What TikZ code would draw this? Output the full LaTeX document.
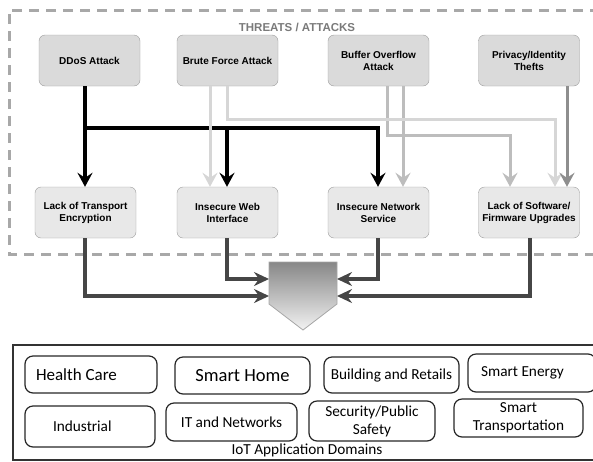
\documentclass[tikz,border=0pt]{standalone}
\usepackage{fontspec}
\newfontfamily\threatfont{Liberation Sans}
\newfontfamily\domainfont{Carlito}
\usetikzlibrary{arrows.meta}
\definecolor{boxedge}{HTML}{9C9C9C}
\definecolor{topfill}{HTML}{DADADA}
\definecolor{lowfill}{HTML}{E8E8E8}
\definecolor{frame}{HTML}{A8A8A8}
\definecolor{bruteline}{HTML}{D6D6D6}
\definecolor{bufline}{HTML}{BDBDBD}
\definecolor{privline}{HTML}{8E8E8E}
\definecolor{flow}{HTML}{464646}
\definecolor{caption}{HTML}{7A7A7A}
\definecolor{pentedge}{HTML}{A6A6A6}
\tikzset{
  threat/.style={draw=boxedge, rounded corners=6pt, fill=topfill, minimum width=101pt, minimum height=51pt, inner sep=0pt, align=center, font=\threatfont\bfseries\fontsize{10}{12}\selectfont},
  flaw/.style={threat, fill=lowfill},
  domainbox/.style={draw=black!85, line width=1.2pt, rounded corners=8pt, inner sep=0pt, align=center, font=\domainfont\fontsize{15.3}{18}\selectfont},
  blackarrow/.style={-{Stealth[length=14pt,width=15pt,inset=5pt]}, line width=3.5pt, draw=black},
  brutearrow/.style={blackarrow, draw=bruteline, line width=3pt},
  bufarrow/.style={blackarrow, draw=bufline, line width=3pt},
  privarrow/.style={blackarrow, draw=privline, line width=3pt},
  flowarrow/.style={-{Stealth[length=15pt,width=14pt,inset=5pt]}, line width=4pt, draw=flow}
}
\begin{document}
\begin{tikzpicture}[x=1pt,y=-1pt]
\useasboundingbox (0,0) rectangle (593,461);
\clip (0,0) rectangle (593,461);
\draw[frame, line width=3pt, dash pattern=on 10pt off 7pt] (600,10) -- (9,10) -- (9,254) -- (600,254);
\node[font=\threatfont\bfseries\fontsize{11.5}{13}\selectfont, text=caption] (title) at (297,27.5) {THREATS / ATTACKS};
\node[threat] (ddos) at (89.5,60.5) {DDoS Attack};
\node[threat] (brute) at (227.5,60.5) {Brute Force Attack};
\node[threat] (buffer) at (378.5,60.5) {Buffer Overflow\\Attack};
\node[threat] (privacy) at (529,60.5) {Privacy/Identity\\Thefts};
\node[flaw] (transport) at (85.5,212.5) {Lack of Transport\\Encryption};
\node[flaw] (web) at (227.5,212.5) {Insecure Web\\Interface};
\node[flaw] (network) at (378.5,212.5) {Insecure Network\\Service};
\node[flaw] (software) at (529,212.5) {Lack of Software/\\Firmware Upgrades};
\coordinate (ddosbar) at (85,128);
\coordinate (webcol) at (227,128);
\coordinate (netcol) at (378,128);
\coordinate (brutecol) at (210,0);
\coordinate (bruteturn) at (555,119);
\coordinate (bufA) at (387,0);
\coordinate (bufB) at (403,0);
\coordinate (bufturn) at (510,135);
\coordinate (privcol) at (567,0);
\coordinate (softcol) at (530,0);
\draw[blackarrow] (ddos.south -| ddosbar) -- (transport.north -| ddosbar);
\draw[blackarrow] (ddosbar) -- (netcol) -- (network.north -| netcol);
\draw[blackarrow] (webcol) -- (web.north -| webcol);
\draw[bufarrow] (buffer.south -| bufA) |- (bufturn) -- (software.north -| bufturn);
\draw[bufarrow] (buffer.south -| bufB) -- (network.north -| bufB);
\draw[brutearrow] (brute.south -| brutecol) -- (web.north -| brutecol);
\draw[brutearrow] (brute.south -| webcol) |- (bruteturn) -- (software.north -| bruteturn);
\draw[privarrow] (privacy.south -| privcol) -- (software.north -| privcol);
\shade[top color=black!47, bottom color=black!5, draw=pentedge, line width=0.8pt] (269,262) -- (337,262) -- (337,304) -- (303,330) -- (269,304) -- cycle;
\coordinate (pentL1) at (269,279);
\coordinate (pentL2) at (269,296);
\coordinate (pentR1) at (337,279);
\coordinate (pentR2) at (337,296);
\draw[flowarrow] (transport.south -| ddosbar) |- (pentL2);
\draw[flowarrow] (web.south -| webcol) |- (pentL1);
\draw[flowarrow] (network.south -| netcol) |- (pentR1);
\draw[flowarrow] (software.south -| softcol) |- (pentR2);
\draw[line width=1.2pt, draw=black!80] (13,345) rectangle (600,460);
\node[domainbox, minimum width=132pt, minimum height=37pt, text width=110pt, align=flush left, font=\domainfont\fontsize{17}{19}\selectfont] (health) at (91,374.5) {Health Care};
\node[domainbox, minimum width=135pt, minimum height=37pt, font=\domainfont\fontsize{18.5}{20}\selectfont] (home) at (242.5,375.5) {Smart Home};
\node[domainbox, minimum width=135pt, minimum height=36pt] (building) at (391.5,375) {Building and Retails};
\node[domainbox, minimum width=128pt, minimum height=38pt, text width=102pt, align=flush left] (energy) at (532,373) {Smart Energy};
\node[domainbox, minimum width=130pt, minimum height=41pt, text width=74pt, align=flush left] (industrial) at (90,426.5) {Industrial};
\node[domainbox, minimum width=131pt, minimum height=38pt] (itnet) at (231.5,422) {IT and Networks};
\node[domainbox, minimum width=126pt, minimum height=40pt] (security) at (372,421) {Security/Public\\Safety};
\node[domainbox, minimum width=129pt, minimum height=38pt] (mobility) at (518.5,418) {Smart\\Transportation};
\node[font=\domainfont\fontsize{15.3}{17}\selectfont] (domcap) at (307,450) {IoT Application Domains};
\end{tikzpicture}
\end{document}
